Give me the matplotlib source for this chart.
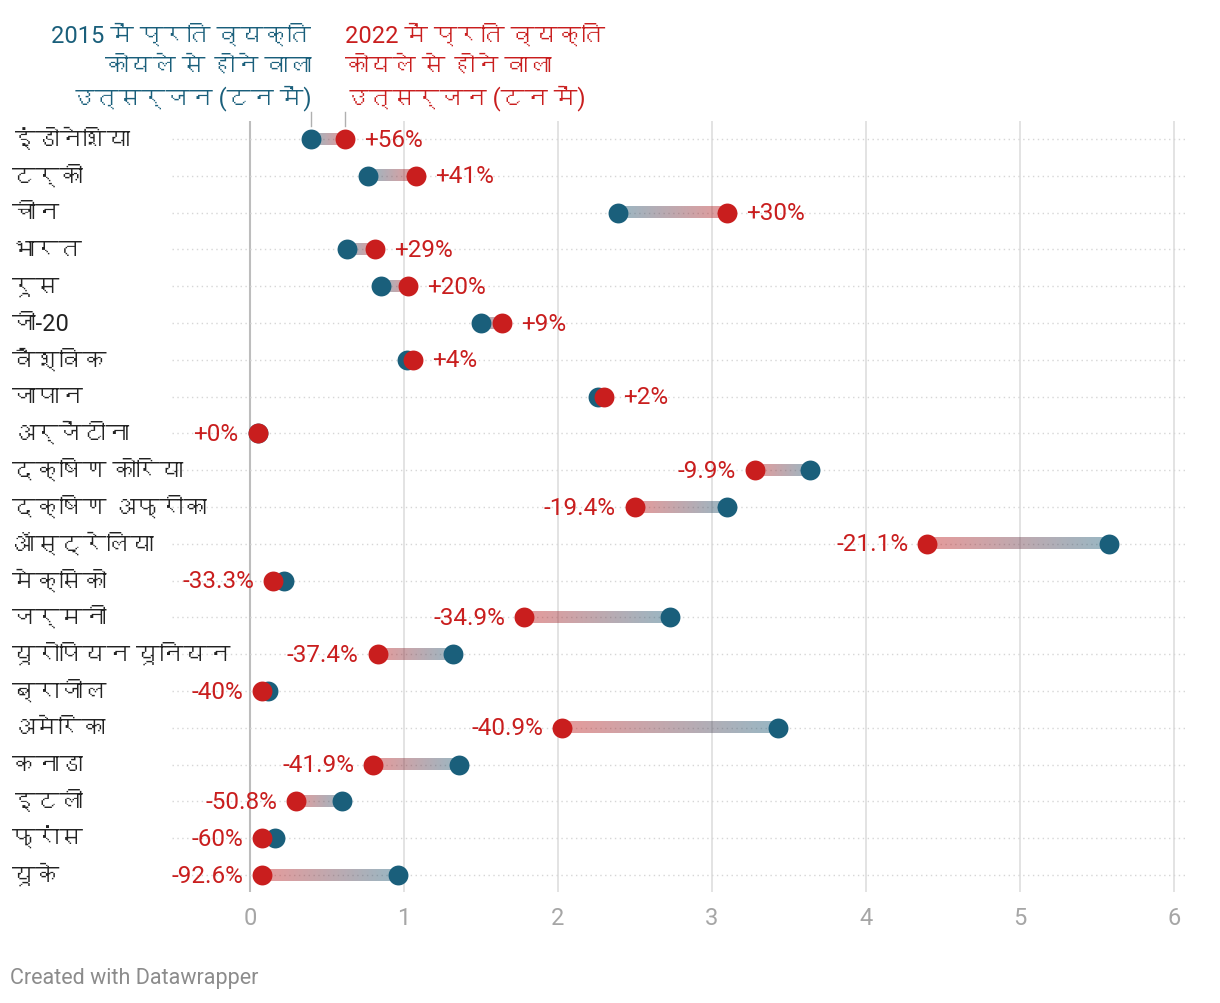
import numpy as np
import matplotlib
matplotlib.use("Agg")
import matplotlib.pyplot as plt
from matplotlib import font_manager, ft2font
from matplotlib.colors import to_rgb
from matplotlib.transforms import blended_transform_factory

# ---------------- FONTS ----------------
# Roboto for numbers, plus any installed font that has Devanagari glyphs
def has_devanagari(path):
    try:
        return ft2font.FT2Font(path).get_char_index(0x0915) != 0
    except Exception:
        return False

deva = []
for f in font_manager.fontManager.ttflist:
    if f.name not in deva and has_devanagari(f.fname):
        deva.append(f.name)
plt.rcParams['font.family'] = ['Roboto'] + deva + ['DejaVu Sans']

# ---------------- DATA ----------------
countries = ["इंडोनेशिया", "टर्की", "चीन", "भारत", "रूस", "जी-20", "वैश्विक",
             "जापान", "अर्जेंटीना", "दक्षिण कोरिया", "दक्षिण अफ्रीका", "ऑस्ट्रेलिया",
             "मेक्सिको", "जर्मनी", "यूरोपियन यूनियन", "ब्राजील", "अमेरिका", "कनाडा",
             "इटली", "फ्रांस", "यूके"]
v2015 = [0.40, 0.77, 2.39, 0.63, 0.85, 1.50, 1.02, 2.26, 0.05, 3.64, 3.10, 5.58,
         0.22, 2.73, 1.32, 0.12, 3.43, 1.36, 0.60, 0.16, 0.96]
v2022 = [0.62, 1.08, 3.10, 0.81, 1.03, 1.64, 1.06, 2.30, 0.05, 3.28, 2.50, 4.40,
         0.15, 1.78, 0.83, 0.08, 2.03, 0.80, 0.30, 0.08, 0.08]
changes = ["+56%", "+41%", "+30%", "+29%", "+20%", "+9%", "+4%", "+2%", "+0%",
           "-9.9%", "-19.4%", "-21.1%", "-33.3%", "-34.9%", "-37.4%", "-40%",
           "-40.9%", "-41.9%", "-50.8%", "-60%", "-92.6%"]
xticks = [0, 1, 2, 3, 4, 5, 6]

BLUE = "#1a5f7b"
RED = "#c91e1e"

# ---------------- FIGURE ----------------
fig = plt.figure(figsize=(12.2, 10.04), dpi=100)
ax = fig.add_axes([172 / 1220, 1 - 893 / 1004, (1186 - 172) / 1220, (893 - 122) / 1004])

for s in ax.spines.values():
    s.set_visible(False)

# grid
for t in xticks[1:]:
    ax.axvline(t, color="#e3e3e3", lw=1.4, zorder=0)
ax.axvline(0, color="#bdbdbd", lw=1.5, zorder=0)
rows = np.arange(len(countries))
for y in rows:
    ax.axhline(y, color="#d6d6d6", lw=1, ls=(0, (1, 2.5)), zorder=0)

# gradient bars: one small image per row, blue (2015) -> red (2022)
b = np.array(to_rgb(BLUE))
r = np.array(to_rgb(RED))
fr = np.linspace(0, 1, 256)[:, None]
grad = np.zeros((1, 256, 4))
grad[0, :, :3] = b * (1 - fr) + r * fr
grad[0, :, 3] = 0.45
h = 0.15
for y, a, c in zip(rows, v2015, v2022):
    if abs(c - a) < 1e-9:
        continue
    ax.imshow(grad, extent=(a, c, y + h, y - h), aspect="auto",
              interpolation="bilinear", zorder=2)

ax.scatter(v2015, rows, s=205, color=BLUE, zorder=3, linewidths=0)
ax.scatter(v2022, rows, s=205, color=RED, zorder=4, linewidths=0)

ax.set_xlim(-0.506, 6.08)
ax.set_ylim(20.46, -0.49)
ax.set_yticks([])
ax.set_xticks(xticks)
ax.set_xticklabels([str(t) for t in xticks], color="#a6a6a6", fontsize=17)
ax.tick_params(axis="x", length=0, pad=10)

# change labels
for y, a, c, lab in zip(rows, v2015, v2022, changes):
    if c > a:
        ax.annotate(lab, (c, y), xytext=(19, 0), textcoords="offset pixels",
                    ha="left", va="center", color=RED, fontsize=17.5)
    else:
        ax.annotate(lab, (c, y), xytext=(-19, 0), textcoords="offset pixels",
                    ha="right", va="center", color=RED, fontsize=17.5)

# country names
tr = blended_transform_factory(fig.transFigure, ax.transData)
for y, name in zip(rows, countries):
    ax.text(12 / 1220, y, name, transform=tr, ha="left", va="center",
            fontsize=17, color="#222222", clip_on=False)

# header labels pointing at first row
ax.text(v2015[0], -0.78, "2015 में प्रति व्यक्ति\nकोयले से होने वाला\nउत्सर्जन (टन में)",
        ha="right", va="bottom", color=BLUE, fontsize=17, linespacing=1.4,
        clip_on=False)
ax.text(v2022[0], -0.78, "2022 में प्रति व्यक्ति\nकोयले से होने वाला\nउत्सर्जन (टन में)",
        ha="left", va="bottom", color=RED, fontsize=17, linespacing=1.4,
        clip_on=False)
for xv in (v2015[0], v2022[0]):
    ax.plot([xv, xv], [-0.73, -0.36], color="#b0b0b0", lw=1, clip_on=False)

fig.text(10 / 1220, 1 - 979 / 1004, "Created with Datawrapper", color="#8c8c8c",
         fontsize=15.5, ha="left", va="center")

fig.savefig("out.png", dpi=100)
